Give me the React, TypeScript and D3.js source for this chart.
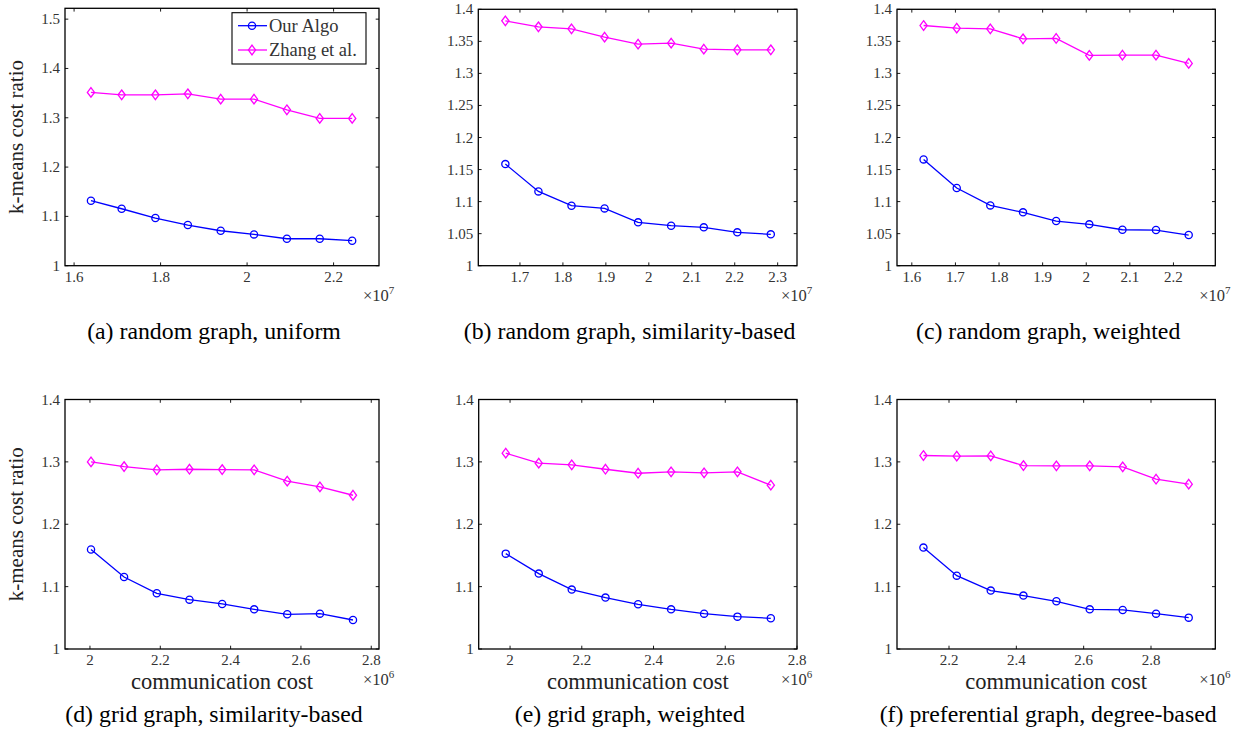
import React from "react";
import * as d3 from "d3";

// ---------- DATA ----------
const seriesNames = ["Our Algo", "Zhang et al."];

const xA = [1.639, 1.71, 1.788, 1.863, 1.939, 2.016, 2.092, 2.168, 2.243];
const oursA = [1.1318, 1.1155, 1.0966, 1.0824, 1.0709, 1.0635, 1.0547, 1.0547, 1.0507];
const zhangA = [1.3514, 1.3466, 1.3466, 1.3486, 1.3378, 1.3378, 1.3162, 1.2986, 1.2986];

const xB = [1.666, 1.743, 1.82, 1.897, 1.975, 2.052, 2.128, 2.206, 2.284];
const oursB = [1.1585, 1.1159, 1.0936, 1.0894, 1.0676, 1.0624, 1.0598, 1.052, 1.0489];
const zhangB = [1.382, 1.3727, 1.3695, 1.3565, 1.3456, 1.3472, 1.3378, 1.3368, 1.3368];

const xC = [1.627, 1.703, 1.78, 1.855, 1.931, 2.007, 2.083, 2.16, 2.235];
const oursC = [1.1658, 1.1211, 1.0941, 1.0832, 1.0697, 1.0645, 1.0561, 1.0556, 1.0478];
const zhangC = [1.3747, 1.3706, 1.3695, 1.354, 1.3545, 1.328, 1.3285, 1.3285, 1.3155];

const xD = [2.003, 2.097, 2.19, 2.283, 2.376, 2.467, 2.561, 2.654, 2.748];
const oursD = [1.1594, 1.1155, 1.0893, 1.0791, 1.0722, 1.0636, 1.0556, 1.0567, 1.0465];
const zhangD = [1.3, 1.2925, 1.2872, 1.2882, 1.2877, 1.2872, 1.269, 1.2599, 1.2465];

const xE = [1.988, 2.08, 2.172, 2.266, 2.357, 2.449, 2.541, 2.634, 2.727];
const oursE = [1.1529, 1.1209, 1.0952, 1.0824, 1.0717, 1.0636, 1.0567, 1.0519, 1.0492];
const zhangE = [1.3139, 1.2979, 1.2952, 1.2882, 1.2818, 1.284, 1.2824, 1.284, 1.2626];

const xF = [2.124, 2.223, 2.324, 2.421, 2.519, 2.618, 2.716, 2.815, 2.912];
const oursF = [1.1626, 1.1176, 1.0936, 1.0856, 1.0765, 1.0636, 1.0626, 1.0567, 1.0503];
const zhangF = [1.3102, 1.3091, 1.3096, 1.2941, 1.2936, 1.2936, 1.292, 1.2722, 1.2642];

const xTicksA = [1.6, 1.8, 2.0, 2.2];
const xTickLabelsA = ["1.6", "1.8", "2", "2.2"];
const xTicksB = [1.7, 1.8, 1.9, 2.0, 2.1, 2.2, 2.3];
const xTickLabelsB = ["1.7", "1.8", "1.9", "2", "2.1", "2.2", "2.3"];
const xTicksC = [1.6, 1.7, 1.8, 1.9, 2.0, 2.1, 2.2];
const xTickLabelsC = ["1.6", "1.7", "1.8", "1.9", "2", "2.1", "2.2"];
const xTicksDE = [2.0, 2.2, 2.4, 2.6, 2.8];
const xTickLabelsDE = ["2", "2.2", "2.4", "2.6", "2.8"];
const xTicksF = [2.2, 2.4, 2.6, 2.8];
const xTickLabelsF = ["2.2", "2.4", "2.6", "2.8"];

const yTicksA = [1, 1.1, 1.2, 1.3, 1.4, 1.5];
const yTickLabelsA = ["1", "1.1", "1.2", "1.3", "1.4", "1.5"];
const yTicksBC = [1, 1.05, 1.1, 1.15, 1.2, 1.25, 1.3, 1.35, 1.4];
const yTickLabelsBC = ["1", "1.05", "1.1", "1.15", "1.2", "1.25", "1.3", "1.35", "1.4"];
const yTicksBottom = [1, 1.1, 1.2, 1.3, 1.4];
const yTickLabelsBottom = ["1", "1.1", "1.2", "1.3", "1.4"];

const captions = [
  "(a) random graph, uniform",
  "(b) random graph, similarity-based",
  "(c) random graph, weighted",
  "(d) grid graph, similarity-based",
  "(e) grid graph, weighted",
  "(f) preferential graph, degree-based",
];
const yLabel = "k-means cost ratio";
const xLabel = "communication cost";

// ---------- STYLE / LAYOUT ----------
const BLUE = "#0000ff";
const MAGENTA = "#ff00ff";
const SERIF = '"Liberation Serif", "DejaVu Serif", serif';

type PanelCfg = {
  box: [number, number, number, number];
  xDomain: [number, number];
  yDomain: [number, number];
  xs: number[];
  ours: number[];
  zhang: number[];
  xTicks: number[];
  xTickLabels: string[];
  yTicks: number[];
  yTickLabels: string[];
  exp: string;
  caption: string;
  showY: boolean;
  showX: boolean;
  legend: boolean;
};

const TOP_T = 9.3;
const TOP_B = 265.7;
const BOT_T = 399.5;
const BOT_B = 649;

const panels: PanelCfg[] = [
  { box: [65, 8.3, 379, TOP_B], xDomain: [1.579, 2.305], yDomain: [1, 1.522], xs: xA, ours: oursA, zhang: zhangA, xTicks: xTicksA, xTickLabels: xTickLabelsA, yTicks: yTicksA, yTickLabels: yTickLabelsA, exp: "7", caption: captions[0], showY: true, showX: false, legend: true },
  { box: [478.3, TOP_T, 797, TOP_B], xDomain: [1.603, 2.345], yDomain: [1, 1.4], xs: xB, ours: oursB, zhang: zhangB, xTicks: xTicksB, xTickLabels: xTickLabelsB, yTicks: yTicksBC, yTickLabels: yTickLabelsBC, exp: "7", caption: captions[1], showY: false, showX: false, legend: false },
  { box: [897, TOP_T, 1215.3, TOP_B], xDomain: [1.566, 2.296], yDomain: [1, 1.4], xs: xC, ours: oursC, zhang: zhangC, xTicks: xTicksC, xTickLabels: xTickLabelsC, yTicks: yTicksBC, yTickLabels: yTickLabelsBC, exp: "7", caption: captions[2], showY: false, showX: false, legend: false },
  { box: [65, BOT_T, 379, BOT_B], xDomain: [1.929, 2.822], yDomain: [1, 1.4], xs: xD, ours: oursD, zhang: zhangD, xTicks: xTicksDE, xTickLabels: xTickLabelsDE, yTicks: yTicksBottom, yTickLabels: yTickLabelsBottom, exp: "6", caption: captions[3], showY: true, showX: true, legend: false },
  { box: [478.7, BOT_T, 797, BOT_B], xDomain: [1.9126, 2.8], yDomain: [1, 1.4], xs: xE, ours: oursE, zhang: zhangE, xTicks: xTicksDE, xTickLabels: xTickLabelsDE, yTicks: yTicksBottom, yTickLabels: yTickLabelsBottom, exp: "6", caption: captions[4], showY: false, showX: true, legend: false },
  { box: [897, BOT_T, 1215.3, BOT_B], xDomain: [2.0455, 2.991], yDomain: [1, 1.4], xs: xF, ours: oursF, zhang: zhangF, xTicks: xTicksF, xTickLabels: xTickLabelsF, yTicks: yTicksBottom, yTickLabels: yTickLabelsBottom, exp: "6", caption: captions[5], showY: false, showX: true, legend: false },
];

const Circle = ({ x, y }: { x: number; y: number }) => (
  <circle cx={x} cy={y} r={3.6} fill="none" stroke={BLUE} strokeWidth={1.3} />
);
const Diamond = ({ x, y }: { x: number; y: number }) => (
  <path d={`M${x},${y - 4.8}L${x + 3.6},${y}L${x},${y + 4.8}L${x - 3.6},${y}Z`} fill="none" stroke={MAGENTA} strokeWidth={1.3} />
);

const serifStyle: React.CSSProperties = { fontFamily: SERIF };

function Panel({ cfg }: { cfg: PanelCfg }) {
  const [l, t, r, b] = cfg.box;
  const x = d3.scaleLinear().domain(cfg.xDomain).range([l, r]);
  const y = d3.scaleLinear().domain(cfg.yDomain).range([b, t]);
  const line = d3
    .line<number>()
    .x((_, i) => x(cfg.xs[i]))
    .y((d) => y(d));
  const tickLen = 3.3;
  const cx = (l + r) / 2;
  const capX = cx - 8;
  return (
    <g>
      <path d={line(cfg.ours) || ""} fill="none" stroke={BLUE} strokeWidth={1.3} />
      <path d={line(cfg.zhang) || ""} fill="none" stroke={MAGENTA} strokeWidth={1.3} />
      {cfg.ours.map((v, i) => (
        <Circle key={"o" + i} x={x(cfg.xs[i])} y={y(v)} />
      ))}
      {cfg.zhang.map((v, i) => (
        <Diamond key={"z" + i} x={x(cfg.xs[i])} y={y(v)} />
      ))}
      {cfg.xTicks.map((v, i) => (
        <g key={"xt" + i}>
          <line x1={x(v)} x2={x(v)} y1={b} y2={b - tickLen} stroke="#000" strokeWidth={0.9} />
          <line x1={x(v)} x2={x(v)} y1={t} y2={t + tickLen} stroke="#000" strokeWidth={0.9} />
          <text x={x(v)} y={b + 16} textAnchor="middle" style={serifStyle} fontSize={15} fill="#333">
            {cfg.xTickLabels[i]}
          </text>
        </g>
      ))}
      {cfg.yTicks.map((v, i) => (
        <g key={"yt" + i}>
          <line x1={l} x2={l + tickLen} y1={y(v)} y2={y(v)} stroke="#000" strokeWidth={0.9} />
          <line x1={r} x2={r - tickLen} y1={y(v)} y2={y(v)} stroke="#000" strokeWidth={0.9} />
          <text x={l - 5} y={y(v) + 5} textAnchor="end" style={serifStyle} fontSize={15} fill="#333">
            {cfg.yTickLabels[i]}
          </text>
        </g>
      ))}
      <rect x={l} y={t} width={r - l} height={b - t} fill="none" stroke="#000" strokeWidth={1.3} />
      <text x={r - 16} y={b + 35.5} style={serifStyle} fontSize={16.5} fill="#333">
        ×10
        <tspan dy={-7} fontSize={11}>
          {cfg.exp}
        </tspan>
      </text>
      {cfg.showX && (
        <text x={cx} y={b + 39.5} textAnchor="middle" style={serifStyle} fontSize={22.5} fill="#222">
          {xLabel}
        </text>
      )}
      {cfg.showY && (
        <text
          transform={`translate(${23},${(t + b) / 2}) rotate(-90)`}
          textAnchor="middle"
          style={serifStyle}
          fontSize={21}
          fill="#222"
        >
          {yLabel}
        </text>
      )}
      <text x={capX} y={b + 73} textAnchor="middle" style={serifStyle} fontSize={23.8} fill="#000">
        {cfg.caption}
      </text>
      {cfg.legend && (
        <g>
          <rect x={232} y={12.7} width={134} height={51.3} fill="#fff" stroke="#000" strokeWidth={1.1} />
          <line x1={238} x2={267} y1={25.7} y2={25.7} stroke={BLUE} strokeWidth={1.3} />
          <Circle x={252} y={25.7} />
          <text x={269} y={31.8} style={serifStyle} fontSize={18.5} fill="#333">
            {seriesNames[0]}
          </text>
          <line x1={238} x2={267} y1={50} y2={50} stroke={MAGENTA} strokeWidth={1.3} />
          <Diamond x={252} y={50} />
          <text x={269} y={56.1} style={serifStyle} fontSize={18.5} fill="#333">
            {seriesNames[1]}
          </text>
        </g>
      )}
    </g>
  );
}

export default function App() {
  return (
    <svg
      width={1244}
      height={738}
      viewBox="0 0 1244 738"
      style={{ position: "absolute", left: 0, top: 0, background: "#fff" }}
    >
      <rect x={0} y={0} width={1244} height={738} fill="#fff" />
      {panels.map((p, i) => (
        <Panel key={i} cfg={p} />
      ))}
    </svg>
  );
}
